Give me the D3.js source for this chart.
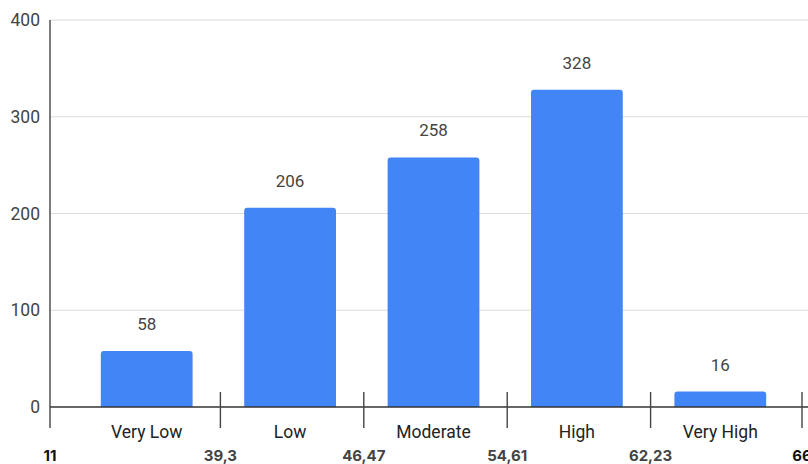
<!DOCTYPE html>
<html>
<head>
<meta charset="utf-8">
<script src="https://cdn.jsdelivr.net/npm/d3@7/dist/d3.min.js"></script>
<style>
  html, body { margin: 0; padding: 0; background: #fff; }
  svg { display: block; }
</style>
</head>
<body>
<svg id="chart" width="808" height="464"></svg>
<script>
const categories = ["Very Low", "Low", "Moderate", "High", "Very High"];
const counts = [58, 206, 258, 328, 16];
const yTicks = [0, 100, 200, 300, 400];
const edgeLabels = ["11", "39,3", "46,47", "54,61", "62,23", "66"];

const W = 808, H = 464;
const axisX = 50;
const svg = d3.select("#chart");

const y = d3.scaleLinear().domain([0, 400]).range([407, 20]);
const x = d3.scaleBand().domain(categories).range([75, 792]).paddingInner(0.36).paddingOuter(0.18);

// gridlines
svg.append("g").selectAll("line").data(yTicks.filter(d => d > 0)).join("line")
  .attr("x1", axisX).attr("x2", W)
  .attr("y1", d => y(d)).attr("y2", d => y(d))
  .attr("stroke", "#dcdcdc").attr("stroke-width", 1.2);

// y tick labels
svg.append("g").selectAll("text").data(yTicks).join("text")
  .attr("x", 40).attr("y", d => y(d) + 6)
  .attr("text-anchor", "end")
  .attr("font-family", "Roboto, Arial, sans-serif")
  .attr("font-size", 17.5).attr("fill", "#444")
  .text(d => d);

// bars with rounded top corners
const r = 3;
svg.append("g").selectAll("path").data(categories).join("path")
  .attr("fill", "#4285f4")
  .attr("d", (c, i) => {
    const x0 = x(c), x1 = x(c) + x.bandwidth();
    const yt = y(counts[i]), yb = y(0);
    return `M${x0},${yb}V${yt + r}Q${x0},${yt} ${x0 + r},${yt}H${x1 - r}Q${x1},${yt} ${x1},${yt + r}V${yb}Z`;
  });

// value labels
svg.append("g").selectAll("text").data(categories).join("text")
  .attr("x", c => x(c) + x.bandwidth() / 2)
  .attr("y", (c, i) => y(counts[i]) - 21)
  .attr("text-anchor", "middle")
  .attr("font-family", "Roboto, Arial, sans-serif")
  .attr("font-size", 17).attr("fill", "#444")
  .text((c, i) => counts[i]);

// axes lines
svg.append("line").attr("x1", axisX).attr("x2", W).attr("y1", y(0)).attr("y2", y(0))
  .attr("stroke", "#333").attr("stroke-width", 1.4);
svg.append("line").attr("x1", axisX).attr("x2", axisX).attr("y1", y(400)).attr("y2", 428)
  .attr("stroke", "#444").attr("stroke-width", 1.4);

// category labels
svg.append("g").selectAll("text").data(categories).join("text")
  .attr("x", c => x(c) + x.bandwidth() / 2)
  .attr("y", 438)
  .attr("text-anchor", "middle")
  .attr("font-family", "Roboto, Arial, sans-serif")
  .attr("font-size", 17.5).attr("fill", "#222")
  .text(c => c);

// bin edge positions: y axis, then band boundaries
const half = (x.step() - x.bandwidth()) / 2;
const edgeX = edgeLabels.map((e, i) => {
  if (i === 0) return axisX;
  const c = categories[i - 1];
  const b = x(c) + x.bandwidth() + half + 2;
  return i === edgeLabels.length - 1 ? b + 8 : b;
});

svg.append("g").selectAll("line").data(edgeX.slice(1)).join("line")
  .attr("x1", d => d).attr("x2", d => d)
  .attr("y1", 392).attr("y2", 428)
  .attr("stroke", "#444").attr("stroke-width", 1.4);

svg.append("g").selectAll("text").data(edgeLabels).join("text")
  .attr("x", (d, i) => edgeX[i])
  .attr("y", 461)
  .attr("text-anchor", "middle")
  .attr("font-family", "Inter, Arial, sans-serif")
  .attr("font-weight", "bold")
  .attr("font-size", 15)
  .attr("fill", (d, i) => (i === 0 || i === edgeLabels.length - 1) ? "#111" : "#444")
  .text(d => d);
</script>
</body>
</html>
